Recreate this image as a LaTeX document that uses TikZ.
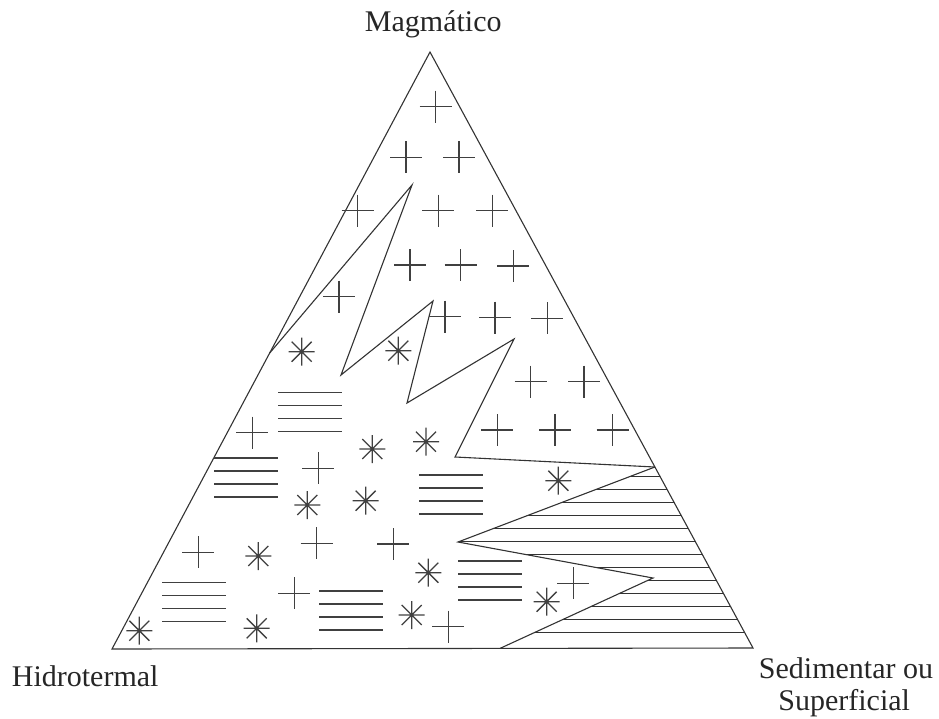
\documentclass[tikz,border=0pt]{standalone}
\usepackage{fontspec}
\setmainfont{Liberation Serif}
\begin{document}
\begin{tikzpicture}[x=1pt,y=-1pt,
  outl/.style={draw=black!80, line width=1.1pt, line join=miter},
  sym/.style={draw=black!75, line width=1.3pt},
  hatch/.style={draw=black!80, line width=1pt},
  lbl/.style={inner sep=0pt, font=\fontsize{30}{32}\selectfont, text=black!85},
  crs/.pic={\draw[sym] (-16,0)--(16,0) (0,-16)--(0,16);},
  ast/.pic={\draw[sym] (-13,0)--(13,0) (0,-14)--(0,14) (-10,-10)--(10,10) (-10,10)--(10,-10);},
  bars/.pic={\draw[sym] (0,0)--(64,0) (0,13)--(64,13) (0,26)--(64,26) (0,39)--(64,39);}
]
\useasboundingbox (0,0) rectangle (939,718);
% triangle corners
\coordinate (M) at (430,52);
\coordinate (H) at (112,649);
\coordinate (S) at (753,648);
% zigzag points
\coordinate (z1) at (269.7,353);
\coordinate (z2) at (412,185);
\coordinate (z3) at (341,375);
\coordinate (z4) at (433,301);
\coordinate (z5) at (407,403);
\coordinate (z6) at (514,339);
\coordinate (z7) at (455,457);
\coordinate (z8) at (654.9,467);
\coordinate (s1) at (458,542);
\coordinate (s2) at (653,578);
\coordinate (s3) at (500,648.4);
% hatching of sedimentary field
\begin{scope}
  \clip (z8) -- (s1) -- (s2) -- (s3) -- (S) -- cycle;
  \foreach \k in {0,...,12} {
    \draw[hatch] (430,476+13*\k) -- (780,476+13*\k);
  }
\end{scope}
% outlines
\draw[outl] (M) -- (H) -- (S) -- cycle;
\draw[outl] (z1) -- (z2) -- (z3) -- (z4) -- (z5) -- (z6) -- (z7) -- (z8);
\draw[outl] (z8) -- (s1) -- (s2) -- (s3);
% crosses
\foreach \p in {(435.7,106.7),(406,157.3),(459,157.3),(357.7,210.7),(438.3,210.7),(492.3,210.7),
  (410,265),(460.7,265),(513.3,266),(339,296.7),(445,316.7),(495,317.7),(547.3,318.3),
  (530.7,381.7),(584,381.7),(497.3,430),(555,430),(612.7,430),(573.3,583.3),
  (252.3,432.7),(318.3,468.3),(198.3,552.3),(316.7,543.3),(393.3,544),(294.3,593.3),(448.3,626.7)}
  \pic at \p {crs};
% asterisks
\foreach \p in {(301.7,351.7),(398.3,350.7),(372.3,449),(426,441.7),(307.3,505),(365.7,500.7),
  (258.3,556),(428.3,572.7),(411.7,615),(139.3,630.7),(256.7,628.3),(558.3,480.7),(546.7,601.7)}
  \pic at \p {ast};
% line groups
\foreach \p in {(278.3,392.7),(214,458),(419.3,475),(162,582.3),(319,591),(458,561)}
  \pic at \p {bars};
% labels
\node[lbl, anchor=base] (tM) at (433.3,31.7) {Magmático};
\node[lbl, anchor=base west] (tH) at (11.7,686) {Hidrotermal};
\node[lbl, anchor=base] (tS1) at (846,678) {Sedimentar ou};
\node[lbl, anchor=base] (tS2) at (844.2,710) {Superficial};
\end{tikzpicture}
\end{document}
